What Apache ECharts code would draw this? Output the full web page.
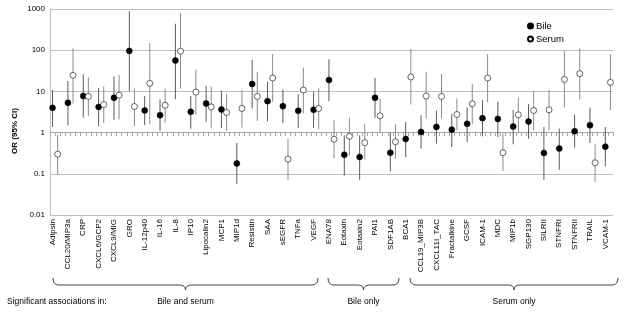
<!DOCTYPE html>
<html>
<head>
<meta charset="utf-8">
<script src="https://cdn.jsdelivr.net/npm/echarts@6/dist/echarts.min.js"></script>
<style>
  html, body { margin: 0; padding: 0; background: #fff; }
  #chart { width: 625px; height: 313px; }
</style>
</head>
<body>
<div id="chart"></div>
<script>
// cytokines, in plot order
const categories = ['Adipsin', 'CCL20/MIP3a', 'CRP', 'CXCL6/GCP2', 'CXCL9/MIG', 'GRO', 'IL-12p40', 'IL-16', 'IL-8', 'IP10',
  'Lipocalin2', 'MCP1', 'MIP1d', 'Resistin', 'SAA', 'sEGFR', 'TNFa', 'VEGF',
  'ENA78', 'Eotaxin', 'Eotaxin2', 'PAI1', 'SDF1AB',
  'BCA1', 'CCL19_MIP3B', 'CXCL11I_TAC', 'Fractalkine', 'GCSF', 'ICAM-1', 'MDC', 'MIP1b', 'SGP130', 'SILRII',
  'STNFRI', 'STNFRII', 'TRAIL', 'VCAM-1']

const bileOR = [4.0, 5.3, 7.7, 4.2, 7.0, 96, 3.44, 2.65, 56, 3.19, 5.1, 3.64, 0.179, 15.1, 5.8, 4.39, 3.38, 3.57,
  18.9, 0.29, 0.255, 7.0, 0.325,
  0.70, 1.04, 1.37, 1.18, 1.63, 2.24, 2.15, 1.4, 1.85, 0.32, 0.41, 1.08, 1.51, 0.456]
const bileLow = [1.37, 1.51, 2.3, 1.43, 2.04, 10.2, 1.51, 1.1, 6.5, 1.25, 1.82, 1.3, 0.057, 3.85, 1.89, 1.72, 1.3, 1.3,
  5.8, 0.091, 0.071, 2.3, 0.116,
  0.255, 0.41, 0.54, 0.45, 0.59, 0.81, 0.78, 0.52, 0.71, 0.071, 0.125, 0.43, 0.56, 0.151]
const bileHigh = [10.8, 17.9, 26, 12.1, 23.2, 877, 7.7, 6.4, 439, 7.8, 13.5, 10.4, 0.56, 58, 17.2, 11.2, 8.6, 9.8,
  60, 0.86, 0.86, 21.1, 0.98,
  1.82, 2.65, 3.4, 2.8, 4.07, 6.15, 5.6, 3.5, 4.9, 1.37, 1.25, 2.75, 4.07, 1.37]

const serumOR = [0.30, 24.6, 7.55, 4.8, 8.1, 4.3, 15.7, 4.6, 94.6, 9.6, 4.2, 3.07, 3.85, 7.55, 21.1, 0.228, 10.8, 3.85,
  0.69, 0.81, 0.57, 2.55, 0.60,
  22.4, 7.7, 7.55, 2.75, 5.0, 21.1, 0.325, 2.7, 3.44, 3.57, 19.6, 27, 0.185, 16.6]
const serumLow = [0.096, 5.1, 2.5, 1.72, 2.1, 1.43, 1.6, 1.75, 11.6, 2.7, 1.32, 1.1, 1.32, 1.93, 5.6, 0.071, 2.9, 1.23,
  0.24, 0.28, 0.22, 0.98, 0.23,
  4.8, 2.2, 2.2, 1.14, 1.6, 5.4, 0.116, 0.96, 1.14, 1.14, 4.07, 6.4, 0.063, 3.5]
const serumHigh = [0.89, 112, 21.9, 13.2, 25, 11.8, 148, 11.8, 798, 34, 13, 8.6, 10.8, 30, 81, 0.71, 37.8, 11.8,
  2.0, 2.3, 1.6, 6.75, 1.6,
  106, 30, 26.5, 6.75, 15.1, 80, 0.95, 7.1, 10.4, 10.8, 96, 112, 0.54, 80]

const yTickLabels = ['0.01', '0.1', '1', '10', '100', '1000']

const groupNames = ['Bile and serum', 'Bile only', 'Serum only']

// three slots per cytokine: bile, serum, gap (no gap after the last one)
const slots = []
categories.forEach((c, i) => {
  slots.push(c, '')
  if (i < categories.length - 1) slots.push('')
})

const bilePoints = bileOR.map((v, i) => [3 * i, v])
const serumPoints = serumOR.map((v, i) => [3 * i + 1, v])
const bileBars = bileLow.map((v, i) => [3 * i, v, bileHigh[i]])
const serumBars = serumLow.map((v, i) => [3 * i + 1, v, serumHigh[i]])

function errorBar(color) {
  return function (params, api) {
    const top = api.coord([api.value(0), api.value(2)])
    const bottom = api.coord([api.value(0), api.value(1)])
    return {
      type: 'line',
      shape: { x1: top[0], y1: top[1], x2: bottom[0], y2: bottom[1] },
      style: { stroke: color, lineWidth: 1 }
    }
  }
}

// curly brace opening upward, built from curves and lines
function brace(x1, x2) {
  const y0 = 278, y1 = 285, y2 = 290, r = 6, xm = (x1 + x2) / 2
  const st = { stroke: '#404040', lineWidth: 1, fill: null }
  const q = (a, b, c, d, e, f) => ({ type: 'bezierCurve', shape: { x1: a, y1: b, cpx1: c, cpy1: d, x2: e, y2: f }, style: st })
  const l = (a, b, c, d) => ({ type: 'line', shape: { x1: a, y1: b, x2: c, y2: d }, style: st })
  return [
    q(x1, y0, x1, y1, x1 + r, y1),
    l(x1 + r, y1, xm - r, y1),
    q(xm - r, y1, xm, y1, xm, y2),
    q(xm, y2, xm, y1, xm + r, y1),
    l(xm + r, y1, x2 - r, y1),
    q(x2 - r, y1, x2, y1, x2, y0)
  ]
}

const braceSpans = [[53, 318], [328, 399], [410, 618]]
const textStyle = { fill: '#000', fontSize: 8.5, fontFamily: 'Liberation Sans' }

let graphics = [{
  type: 'text', x: 15, y: 131, rotation: Math.PI / 2,
  style: { text: 'OR (95% CI)', fill: '#000', fontSize: 8, fontWeight: 'bold', fontFamily: 'Liberation Sans', align: 'center', verticalAlign: 'middle' }
}, {
  type: 'text', x: 7, y: 302,
  style: Object.assign({ text: 'Significant associations in:', verticalAlign: 'middle' }, textStyle)
}]
braceSpans.forEach((s, i) => {
  graphics = graphics.concat(brace(s[0], s[1]))
  graphics.push({
    type: 'text', x: (s[0] + s[1]) / 2, y: 302,
    style: Object.assign({ text: groupNames[i], align: 'center', verticalAlign: 'middle' }, textStyle)
  })
})

const chart = echarts.init(document.getElementById('chart'))
chart.setOption({
  animation: false,
  backgroundColor: '#fff',
  grid: { left: 50, right: 12, top: 9, bottom: 98 },
  legend: {
    data: ['Bile', 'Serum'],
    orient: 'vertical',
    left: 522, top: 16,
    itemWidth: 5, itemHeight: 5, itemGap: 3,
    icon: 'circle',
    textStyle: { color: '#000', fontSize: 9.5, fontFamily: 'Liberation Sans', padding: [0, 0, 0, -2] }
  },
  xAxis: [{
    type: 'category',
    data: slots,
    position: 'bottom',
    axisLine: { show: false },
    axisTick: { show: false },
    axisLabel: {
      interval: 0, rotate: 90, margin: 4,
      color: '#000', fontSize: 8, fontFamily: 'Liberation Sans'
    },
    splitLine: { show: false }
  }, {
    // the category line crossing at OR = 1
    type: 'category',
    data: slots,
    position: 'bottom',
    offset: -83,
    axisLine: { show: true, lineStyle: { color: '#a6a6a6', width: 1 } },
    axisTick: { show: true, interval: 0, length: 4, lineStyle: { color: '#a6a6a6' } },
    axisLabel: { show: false },
    splitLine: { show: false }
  }],
  yAxis: {
    type: 'log',
    logBase: 10,
    min: 0.01,
    max: 1000,
    axisLine: { show: true, lineStyle: { color: '#bfbfbf' } },
    axisTick: { show: false },
    axisLabel: {
      margin: 5, color: '#000', fontSize: 8, fontFamily: 'Liberation Sans',
      formatter: v => yTickLabels[Math.round(Math.log10(v)) + 2]
    },
    splitLine: { show: true, lineStyle: { color: '#bfbfbf', width: 1 } }
  },
  series: [{
    name: 'bile CI',
    type: 'custom',
    xAxisIndex: 0,
    renderItem: errorBar('#595959'),
    data: bileBars,
    z: 2
  }, {
    name: 'serum CI',
    type: 'custom',
    xAxisIndex: 0,
    renderItem: errorBar('#8c8c8c'),
    data: serumBars,
    z: 2
  }, {
    name: 'Bile',
    type: 'scatter',
    xAxisIndex: 0,
    data: bilePoints,
    symbol: 'circle',
    symbolSize: 6,
    itemStyle: { color: '#000', borderColor: '#000', borderWidth: 0.5, opacity: 1 },
    z: 5
  }, {
    name: 'Serum',
    type: 'scatter',
    xAxisIndex: 0,
    data: serumPoints,
    symbol: 'circle',
    symbolSize: 6,
    itemStyle: { color: '#fff', borderColor: '#000', borderWidth: 0.6, opacity: 1 },
    z: 5
  }],
  graphic: graphics
})
</script>
</body>
</html>
